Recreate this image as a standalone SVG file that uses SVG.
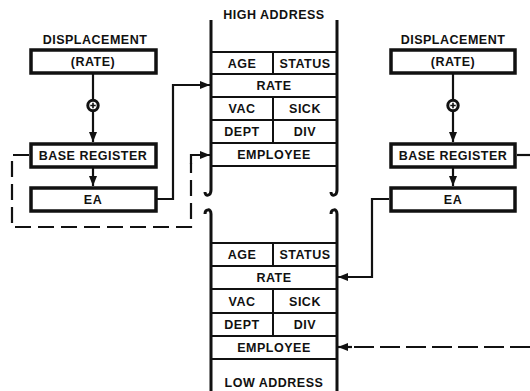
<svg xmlns="http://www.w3.org/2000/svg" width="530" height="391" viewBox="0 0 530 391">
<style>
text{font-family:"Liberation Sans",Arial,sans-serif;font-weight:bold;font-size:12.5px;letter-spacing:0.5px;fill:#111;text-anchor:middle}
.box{fill:#fff;stroke:#111;stroke-width:3.5}
.row{fill:none;stroke:#111;stroke-width:2}
.wall{fill:none;stroke:#111;stroke-width:3}
.ln{fill:none;stroke:#111;stroke-width:2.2}
.dl{fill:none;stroke:#111;stroke-width:2.2;stroke-dasharray:16 7}
.dr{fill:none;stroke:#111;stroke-width:2.2;stroke-dasharray:20 6}
.sum{fill:#fff;stroke:#111;stroke-width:3}
</style>
<defs>
<marker id="ah" viewBox="0 0 10 8" refX="10" refY="4" markerWidth="10" markerHeight="8" markerUnits="userSpaceOnUse" orient="auto">
<path d="M0,0 L10,4 L0,8 Z" fill="#111"/>
</marker>
</defs>
<rect width="530" height="391" fill="#fff"/>

<g id="memory">
<text x="274" y="19">HIGH ADDRESS</text>
<path class="wall" d="M211,20 V190 C211,196 205,197 205,192 M337,20 V190 C337,196 331,197 331,192"/>
<path class="wall" d="M205,214 C205,209 211,208 211,214 V391 M331,214 C331,209 337,208 337,214 V391"/>
<path class="row" d="M211,52 H337 M211,74 H337 M211,97 H337 M211,120 H337 M211,143 H337 M211,166 H337 M273,52 V74 M273,97 V143"/>
<path class="row" d="M211,243 H337 M211,266 H337 M211,289 H337 M211,313 H337 M211,336 H337 M211,359 H337 M273,243 V266 M273,289 V336"/>
<text x="242" y="68">AGE</text><text x="305" y="68">STATUS</text>
<text x="274" y="90">RATE</text>
<text x="242" y="113">VAC</text><text x="305" y="113">SICK</text>
<text x="242" y="136">DEPT</text><text x="305" y="136">DIV</text>
<text x="274" y="159">EMPLOYEE</text>
<text x="242" y="259">AGE</text><text x="305" y="259">STATUS</text>
<text x="274" y="282">RATE</text>
<text x="242" y="306">VAC</text><text x="305" y="306">SICK</text>
<text x="242" y="329">DEPT</text><text x="305" y="329">DIV</text>
<text x="274" y="352">EMPLOYEE</text>
<text x="274" y="387">LOW ADDRESS</text>
</g>

<g id="connectors">
<path class="ln" d="M93,73 V100"/>
<path class="ln" d="M93,111 V142" marker-end="url(#ah)"/>
<path class="ln" d="M93,167 V186" marker-end="url(#ah)"/>
<path class="ln" d="M157,199 H173 V85 H210" marker-end="url(#ah)"/>
<path class="dl" d="M29,155 H12 V227 H191 V163"/>
<path class="ln" d="M191,164 V155 H210" marker-end="url(#ah)"/>
<path class="ln" d="M453,73 V100"/>
<path class="ln" d="M453,111 V142" marker-end="url(#ah)"/>
<path class="ln" d="M453,166 V186" marker-end="url(#ah)"/>
<path class="ln" d="M517,155 H530"/>
<path class="ln" d="M389,199 H372 V277 H338" marker-end="url(#ah)"/>
<path class="dr" d="M530,347 H350"/>
<path class="ln" d="M352,347 H338" marker-end="url(#ah)"/>
</g>

<g id="left-displacement">
<text x="95" y="44">DISPLACEMENT</text>
<rect class="box" x="31" y="50" width="125" height="23"/>
<text x="93" y="66">(RATE)</text>
</g>
<g id="left-adder">
<circle class="sum" cx="93" cy="105.5" r="5.2"/>
<path d="M90.3,105.5 H95.7 M93,102.8 V108.2" stroke="#111" stroke-width="1.6"/>
</g>
<g id="left-base">
<rect class="box" x="31" y="144" width="125" height="23"/>
<text x="93" y="160">BASE REGISTER</text>
</g>
<g id="left-ea">
<rect class="box" x="31" y="188" width="125" height="23"/>
<text x="93" y="204">EA</text>
</g>

<g id="right-displacement">
<text x="453" y="44">DISPLACEMENT</text>
<rect class="box" x="391" y="50" width="124" height="23"/>
<text x="453" y="66">(RATE)</text>
</g>
<g id="right-adder">
<circle class="sum" cx="453" cy="105.5" r="5.2"/>
<path d="M450.3,105.5 H455.7 M453,102.8 V108.2" stroke="#111" stroke-width="1.6"/>
</g>
<g id="right-base">
<rect class="box" x="391" y="144" width="124" height="23"/>
<text x="453" y="160">BASE REGISTER</text>
</g>
<g id="right-ea">
<rect class="box" x="391" y="188" width="124" height="23"/>
<text x="453" y="204">EA</text>
</g>
</svg>
